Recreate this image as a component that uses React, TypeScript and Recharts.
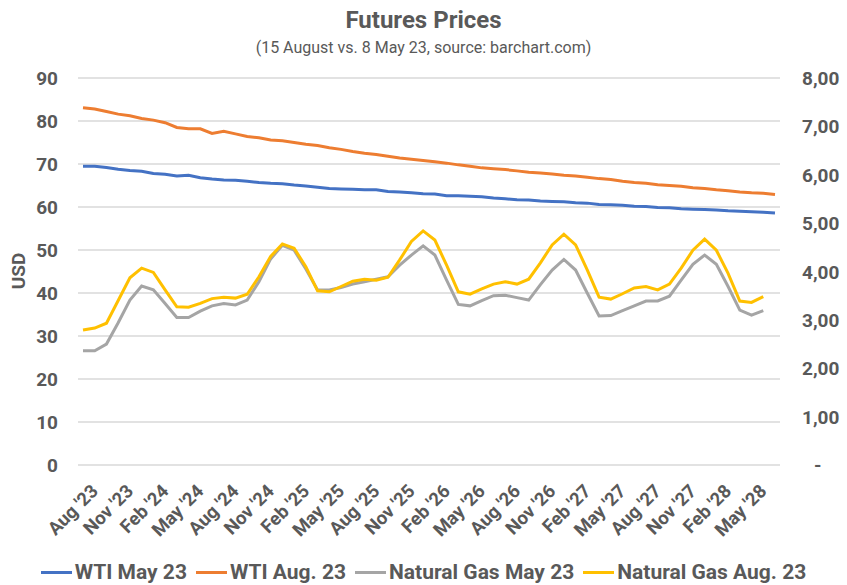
import { LineChart, Line, XAxis, YAxis, CartesianGrid, Legend } from "recharts";

const months = [
  "Aug '23", "Sep '23", "Oct '23", "Nov '23", "Dec '23",
  "Jan '24", "Feb '24", "Mar '24", "Apr '24", "May '24", "Jun '24", "Jul '24", "Aug '24", "Sep '24", "Oct '24", "Nov '24", "Dec '24",
  "Jan '25", "Feb '25", "Mar '25", "Apr '25", "May '25", "Jun '25", "Jul '25", "Aug '25", "Sep '25", "Oct '25", "Nov '25", "Dec '25",
  "Jan '26", "Feb '26", "Mar '26", "Apr '26", "May '26", "Jun '26", "Jul '26", "Aug '26", "Sep '26", "Oct '26", "Nov '26", "Dec '26",
  "Jan '27", "Feb '27", "Mar '27", "Apr '27", "May '27", "Jun '27", "Jul '27", "Aug '27", "Sep '27", "Oct '27", "Nov '27", "Dec '27",
  "Jan '28", "Feb '28", "Mar '28", "Apr '28", "May '28", "Jun '28", "Jul '28",
];

// WTI crude, USD/bbl (left axis)
const wtiMay = [
  69.5, 69.5, 69.2, 68.8, 68.5, 68.3, 67.8, 67.6, 67.2, 67.4,
  66.8, 66.5, 66.3, 66.2, 66.0, 65.7, 65.5, 65.4, 65.1, 64.9,
  64.6, 64.3, 64.2, 64.1, 64.0, 64.0, 63.6, 63.5, 63.3, 63.1,
  63.0, 62.6, 62.6, 62.5, 62.4, 62.1, 61.9, 61.7, 61.6, 61.4,
  61.3, 61.2, 61.0, 60.9, 60.6, 60.5, 60.4, 60.2, 60.1, 59.9,
  59.8, 59.6, 59.5, 59.4, 59.3, 59.1, 59.0, 58.9, 58.8, 58.6,
];
const wtiAug = [
  83.1, 82.8, 82.2, 81.6, 81.2, 80.6, 80.2, 79.6, 78.5, 78.2,
  78.2, 77.1, 77.6, 77.0, 76.4, 76.1, 75.6, 75.4, 75.0, 74.6,
  74.3, 73.8, 73.4, 72.9, 72.5, 72.2, 71.8, 71.4, 71.1, 70.8,
  70.5, 70.2, 69.8, 69.5, 69.1, 68.9, 68.7, 68.4, 68.1, 67.9,
  67.7, 67.4, 67.2, 66.9, 66.6, 66.4, 66.0, 65.7, 65.5, 65.2,
  65.0, 64.8, 64.5, 64.3, 64.0, 63.8, 63.5, 63.3, 63.2, 62.9,
];

// Natural gas, USD/MMBtu (right axis)
const gasMay = [
  2.36, 2.36, 2.50, 2.94, 3.41, 3.70, 3.62, 3.34, 3.05, 3.05,
  3.18, 3.29, 3.34, 3.31, 3.41, 3.79, 4.26, 4.54, 4.44, 4.05,
  3.62, 3.62, 3.67, 3.74, 3.79, 3.84, 3.89, 4.13, 4.34, 4.53,
  4.34, 3.82, 3.32, 3.29, 3.40, 3.50, 3.51, 3.46, 3.41, 3.73,
  4.03, 4.25, 4.03, 3.55, 3.08, 3.09, 3.19, 3.29, 3.39, 3.39,
  3.49, 3.82, 4.15, 4.34, 4.15, 3.69, 3.20, 3.10, 3.19,
];
const gasAug = [
  2.79, 2.83, 2.93, 3.40, 3.87, 4.07, 3.98, 3.62, 3.27, 3.26,
  3.34, 3.44, 3.47, 3.45, 3.53, 3.89, 4.31, 4.57, 4.48, 4.10,
  3.60, 3.58, 3.69, 3.80, 3.84, 3.82, 3.88, 4.24, 4.62, 4.84,
  4.65, 4.13, 3.58, 3.53, 3.64, 3.74, 3.79, 3.74, 3.84, 4.18,
  4.55, 4.77, 4.55, 4.03, 3.47, 3.43, 3.54, 3.66, 3.69, 3.62,
  3.74, 4.07, 4.44, 4.67, 4.44, 3.96, 3.39, 3.36, 3.48,
];

const leftTicks = [0, 10, 20, 30, 40, 50, 60, 70, 80, 90];
const rightTicks = [0, 1, 2, 3, 4, 5, 6, 7, 8];

const series = [
  { key: "wtiMay", name: "WTI May 23", color: "#4472c4", axis: "left" },
  { key: "wtiAug", name: "WTI Aug. 23", color: "#ed7d31", axis: "left" },
  { key: "gasMay", name: "Natural Gas May 23", color: "#a5a5a5", axis: "right" },
  { key: "gasAug", name: "Natural Gas Aug. 23", color: "#ffc000", axis: "right" },
];

const data = months.map((month, i) => ({
  month,
  wtiMay: wtiMay[i],
  wtiAug: wtiAug[i],
  gasMay: gasMay[i] ?? null,
  gasAug: gasAug[i] ?? null,
}));

const FONT = "Roboto, 'Noto Sans', sans-serif";
const TEXT = "#595959";

function RightTick({ x, y, payload }: any) {
  const v = payload.value as number;
  const label = v === 0 ? "-" : v.toFixed(2).replace(".", ",");
  return (
    <text
      x={x + (v === 0 ? 12 : 0)}
      y={y}
      dy={7}
      textAnchor="start"
      fontFamily={FONT}
      fontWeight={700}
      fontSize={19}
      fill={TEXT}
    >
      {label}
    </text>
  );
}

function ChartLegend() {
  return (
    <div style={{ display: "flex", justifyContent: "center", alignItems: "center", gap: 9, paddingTop: 10 }}>
      {series.map((s) => (
        <div key={s.key} style={{ display: "flex", alignItems: "center", gap: 3 }}>
          <span style={{ display: "inline-block", width: 31, height: 3, background: s.color }} />
          <span style={{ color: TEXT, fontWeight: 700, fontSize: 21, fontFamily: FONT }}>{s.name}</span>
        </div>
      ))}
    </div>
  );
}

export default function App() {
  return (
    <div style={{ position: "fixed", left: 0, top: 0, width: 847, height: 585, background: "#fff", fontFamily: FONT }}>
      <div style={{ position: "absolute", top: 6, width: 847, textAlign: "center", fontSize: 24, fontWeight: 700, color: TEXT }}>
        Futures Prices
      </div>
      <div style={{ position: "absolute", top: 38, width: 847, textAlign: "center", fontSize: 16, color: TEXT }}>
        (15 August vs. 8 May 23, source: barchart.com)
      </div>
      <div
        style={{
          position: "absolute",
          left: 18,
          top: 271,
          transform: "translate(-50%, -50%) rotate(-90deg)",
          fontSize: 19,
          fontWeight: 700,
          color: TEXT,
        }}
      >
        USD
      </div>
      <LineChart width={847} height={585} data={data} margin={{ top: 78, right: 0, bottom: 0, left: 0 }}>
        <CartesianGrid stroke="#d9d9d9" strokeWidth={1.3} vertical={false} yAxisId="left" />
        <XAxis
          dataKey="month"
          interval={2}
          padding={{ left: 5, right: 5 }}
          axisLine={false}
          tickLine={false}
          angle={-45}
          textAnchor="end"
          height={85}
          tick={{ fontSize: 18.5, fontWeight: 700, fill: TEXT, fontFamily: FONT, dx: 7, dy: 10 }}
        />
        <YAxis
          yAxisId="left"
          domain={[0, 90]}
          ticks={leftTicks}
          width={78}
          axisLine={false}
          tickLine={false}
          tickMargin={14}
          tick={{ fontSize: 19, fontWeight: 700, fill: TEXT, fontFamily: FONT }}
        />
        <YAxis
          yAxisId="right"
          orientation="right"
          domain={[0, 8]}
          ticks={rightTicks}
          width={67}
          axisLine={false}
          tickLine={false}
          tickMargin={16}
          tick={<RightTick />}
        />
        {series.map((s) => (
          <Line
            key={s.key}
            yAxisId={s.axis}
            dataKey={s.key}
            name={s.name}
            stroke={s.color}
            strokeWidth={3}
            dot={false}
            isAnimationActive={false}
          />
        ))}
        <Legend verticalAlign="bottom" height={35} content={<ChartLegend />} />
      </LineChart>
    </div>
  );
}
